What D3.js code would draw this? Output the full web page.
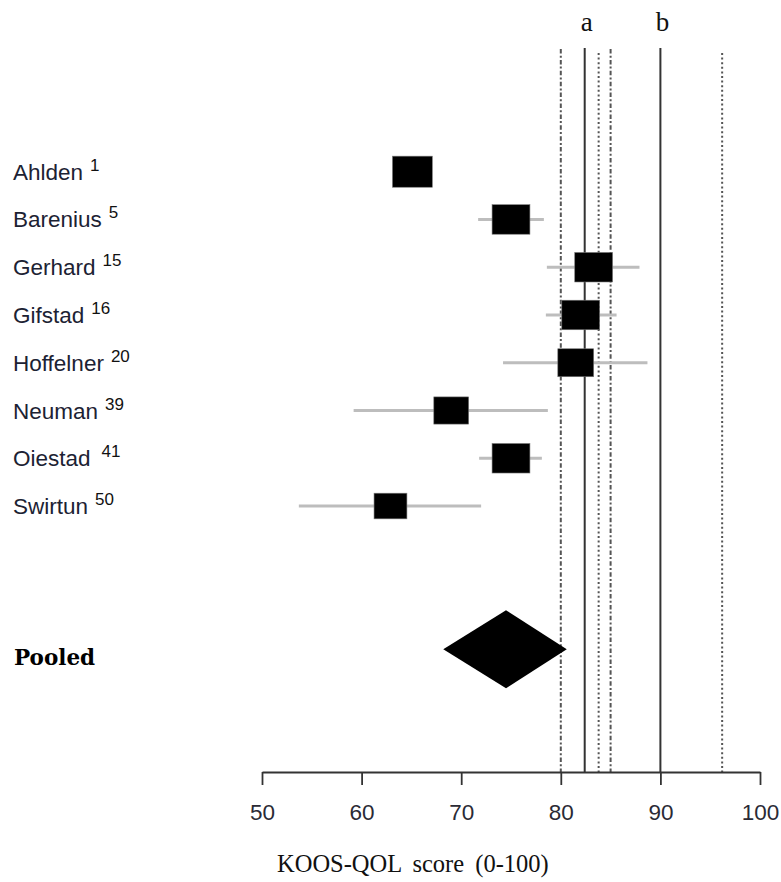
<!DOCTYPE html>
<html>
<head>
<meta charset="utf-8">
<script src="https://cdn.jsdelivr.net/npm/d3@7"></script>
<style>
  body { margin: 0; background: #fff; }
  svg { display: block; }
</style>
</head>
<body>
<svg id="chart" width="781" height="882"></svg>
<script>
// studies, top to bottom
var studies = ["Ahlden", "Barenius", "Gerhard", "Gifstad", "Hoffelner", "Neuman", "Oiestad", "Swirtun"];
var refs = ["1", "5", "15", "16", "20", "39", "41", "50"];
var means = [65.1, 75.0, 83.3, 82.0, 81.5, 69.0, 75.0, 62.9];
var lower = [63.6, 71.7, 78.6, 78.5, 74.2, 59.2, 71.8, 53.7];
var upper = [66.6, 78.3, 87.9, 85.6, 88.7, 78.7, 78.1, 72.0];
// box width (weight) in score units
var weights = [4.0, 3.8, 3.8, 3.8, 3.6, 3.5, 3.8, 3.3];

var pooled = {label: "Pooled", mean: 74.5, lower: 68.2, upper: 80.6};

// reference lines
var refValues = [80.0, 82.4, 83.8, 85.0, 90.0, 96.2];
var refTypes = ["dotdash", "solid", "dotted", "dotdash", "solid", "dotted"];
var refNames = ["", "a", "", "", "b", ""];

var xTicks = [50, 60, 70, 80, 90, 100];
var xTitle = "KOOS-QOL score (0-100)";

var svg = d3.select("#chart");

var x = d3.scaleLinear().domain([50, 100]).range([262, 760]);
var y = d3.scaleLinear().domain([0, 10]).range([171.7, 649.3]);
var axisY = 772;

var dash = {solid: null, dotted: "2,2.6", dotdash: "4.5,2.2,2,2.2"};
var topY = {solid: 48, dotted: 53, dotdash: 49};

// vertical reference lines
svg.selectAll("line.ref").data(refValues).enter().append("line")
  .attr("class", "ref")
  .attr("x1", function(d) { return x(d); })
  .attr("x2", function(d) { return x(d); })
  .attr("y1", function(d, i) { return topY[refTypes[i]]; })
  .attr("y2", axisY)
  .attr("stroke", function(d, i) { return refTypes[i] == "solid" ? "#333" : "#555"; })
  .attr("stroke-width", function(d, i) { return refTypes[i] == "solid" ? 2 : 2; })
  .attr("stroke-dasharray", function(d, i) { return dash[refTypes[i]]; });

svg.selectAll("text.refname").data(refValues.filter(function(d, i) { return refNames[i]; }))
  .enter().append("text")
  .attr("class", "refname")
  .attr("x", function(d) { return x(d) + 2; })
  .attr("y", 31)
  .attr("text-anchor", "middle")
  .attr("font-family", "Liberation Serif, serif")
  .attr("font-size", 27)
  .attr("fill", "#111")
  .text(function(d) { return refNames[refValues.indexOf(d)]; });

// confidence intervals
svg.selectAll("line.ci").data(studies).enter().append("line")
  .attr("class", "ci")
  .attr("x1", function(d, i) { return x(lower[i]); })
  .attr("x2", function(d, i) { return x(upper[i]); })
  .attr("y1", function(d, i) { return y(i); })
  .attr("y2", function(d, i) { return y(i); })
  .attr("stroke", "#bdbdbd")
  .attr("stroke-width", 3);

// boxes
svg.selectAll("rect.box").data(studies).enter().append("rect")
  .attr("class", "box")
  .attr("x", function(d, i) { return x(means[i] - weights[i] / 2); })
  .attr("width", function(d, i) { return x(50 + weights[i]) - x(50); })
  .attr("y", function(d, i) { return y(i) - (x(50 + weights[i]) - x(50)) * 0.39; })
  .attr("height", function(d, i) { return (x(50 + weights[i]) - x(50)) * 0.78; })
  .attr("fill", "#000")
  .attr("stroke", "#777")
  .attr("stroke-width", 0.6);

// study labels
var labels = svg.selectAll("text.study").data(studies).enter().append("text")
  .attr("class", "study")
  .attr("x", 13)
  .attr("y", function(d, i) { return y(i) + 8; })
  .attr("font-family", "Liberation Sans, Arial, sans-serif")
  .attr("font-size", 22.5)
  .attr("fill", "#1c2233");
labels.append("tspan").text(function(d) { return d; });
labels.append("tspan")
  .attr("dx", function(d, i) { return studies[i] == "Oiestad" ? 11 : 7; })
  .attr("dy", -9)
  .attr("font-size", 17)
  .attr("fill", "#111")
  .text(function(d, i) { return refs[i]; });

// pooled diamond
var ph = 39;
svg.append("path")
  .datum(pooled)
  .attr("d", function(d) {
    var cy = y(10);
    return "M" + x(d.lower) + "," + cy + "L" + x(d.mean) + "," + (cy - ph) +
      "L" + x(d.upper) + "," + cy + "L" + x(d.mean) + "," + (cy + ph) + "Z";
  })
  .attr("fill", "#000");

svg.append("text")
  .attr("x", 14)
  .attr("y", y(10) + 16)
  .attr("font-family", "DejaVu Serif, serif")
  .attr("font-weight", "bold")
  .attr("font-size", 21.5)
  .attr("fill", "#000")
  .text(pooled.label);

// x axis
var xAxis = d3.axisBottom(x).tickValues(xTicks).tickSize(13).tickSizeOuter(0).tickPadding(19);
var gx = svg.append("g").attr("transform", "translate(0," + axisY + ")").call(xAxis);
gx.select(".domain").attr("stroke", "#333").attr("stroke-width", 1.8);
gx.selectAll(".tick line").attr("stroke", "#333").attr("stroke-width", 1.8);
gx.selectAll(".tick text")
  .attr("font-family", "Liberation Sans, Arial, sans-serif")
  .attr("font-size", 22.5)
  .attr("fill", "#2a2a35");

svg.append("text")
  .attr("x", 277)
  .attr("y", 872)
  .attr("font-family", "Liberation Serif, serif")
  .attr("font-size", 24.5)
  .attr("word-spacing", 5)
  .attr("fill", "#111")
  .text(xTitle);
</script>
</body>
</html>
